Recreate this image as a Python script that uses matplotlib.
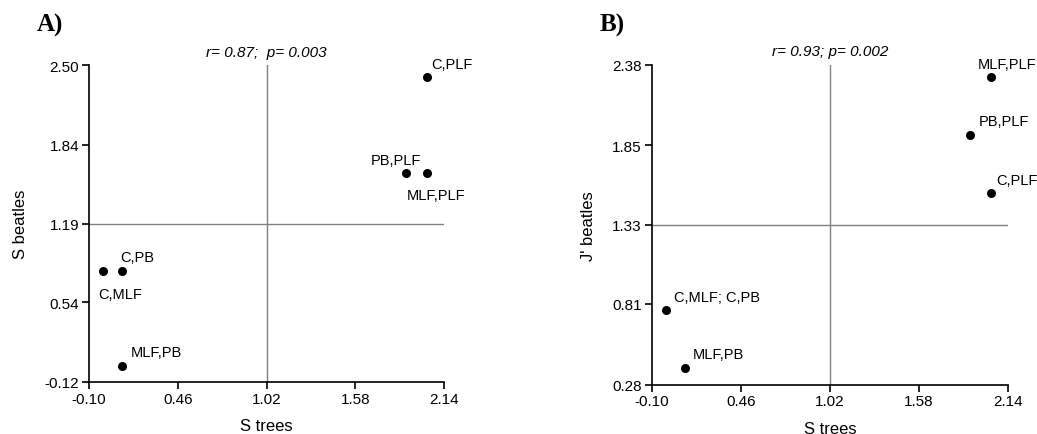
import matplotlib
matplotlib.use("Agg")
import matplotlib.pyplot as plt

plt.rcParams['font.family'] = ['Liberation Sans', 'DejaVu Sans']

# Panel A data
labels_a = ["C,PLF", "PB,PLF", "MLF,PLF", "C,PB", "C,MLF", "MLF,PB"]
x_a = [2.03, 1.90, 2.03, 0.11, -0.01, 0.11]
y_a = [2.40, 1.61, 1.61, 0.80, 0.80, 0.01]
xticks = [-0.10, 0.46, 1.02, 1.58, 2.14]
yticks_a = [-0.12, 0.54, 1.19, 1.84, 2.50]
ref_x = 1.02
ref_y_a = 1.19
stat_a = "r= 0.87;  p= 0.003"

# Panel B data
labels_b = ["MLF,PLF", "PB,PLF", "C,PLF", "C,MLF; C,PB", "MLF,PB"]
x_b = [2.03, 1.90, 2.03, -0.01, 0.11]
y_b = [2.30, 1.92, 1.54, 0.77, 0.39]
yticks_b = [0.28, 0.81, 1.33, 1.85, 2.38]
ref_y_b = 1.33
stat_b = "r= 0.93; p= 0.002"

# label offsets in pixels (dx, dy, ha, va)
offs_a = [(5, 9, 'left', 'baseline'), (-10, 9, 'center', 'baseline'),
          (9, -15, 'center', 'top'), (-2, 10, 'left', 'baseline'),
          (-5, -16, 'left', 'top'), (8, 10, 'left', 'baseline')]
offs_b = [(-13, 9, 'left', 'baseline'), (9, 10, 'left', 'baseline'),
          (5, 9, 'left', 'baseline'), (8, 9, 'left', 'baseline'),
          (8, 10, 'left', 'baseline')]

fig = plt.figure(figsize=(10.37, 4.35), dpi=100)
axA = fig.add_axes([89/1037, 1-383/435, (444-89)/1037, (383-66)/435])
axB = fig.add_axes([651.7/1037, 1-385.7/435, (1008.3-651.7)/1037, (385.7-65.7)/435])


def draw(ax, xs, ys, labels, offs, yticks, ref_y, ylabel, stat, panel, px):
    ax.axvline(ref_x, color='#808080', lw=1.0, zorder=1)
    ax.axhline(ref_y, color='#808080', lw=1.0, zorder=1)
    ax.scatter(xs, ys, s=30, color='black', zorder=3)
    for x, y, lab, (dx, dy, ha, va) in zip(xs, ys, labels, offs):
        ax.annotate(lab, (x, y), xytext=(dx, dy), textcoords='offset pixels',
                    ha=ha, va=va, fontsize=10.5)
    ax.set_xlim(xticks[0], xticks[-1])
    ax.set_ylim(yticks[0], yticks[-1])
    ax.set_xticks(xticks)
    ax.set_xticklabels([f"{t:.2f}" for t in xticks])
    ax.set_yticks(yticks)
    ax.set_yticklabels([f"{t:.2f}" for t in yticks])
    for s in ['top', 'right']:
        ax.spines[s].set_visible(False)
    for s in ['left', 'bottom']:
        ax.spines[s].set_linewidth(1.2)
    ax.tick_params(direction='out', length=5, width=1.2, labelsize=11, pad=2)
    ax.set_xlabel("S trees", fontsize=12, labelpad=9)
    ax.set_ylabel(ylabel, fontsize=12, labelpad=12)
    ax.text(ref_x, 1.02, stat, transform=ax.get_xaxis_transform(), ha='center',
            va='bottom', fontsize=11, style='italic')
    fig.text(px / 1037, 1 - 32 / 435, panel, fontsize=18, fontweight='bold',
             family='Liberation Serif', ha='left', va='baseline')


draw(axA, x_a, y_a, labels_a, offs_a, yticks_a, ref_y_a, "S beatles", stat_a, "A)", 37)
draw(axB, x_b, y_b, labels_b, offs_b, yticks_b, ref_y_b, "J' beatles", stat_b, "B)", 600)

fig.savefig("out.png", dpi=100)
